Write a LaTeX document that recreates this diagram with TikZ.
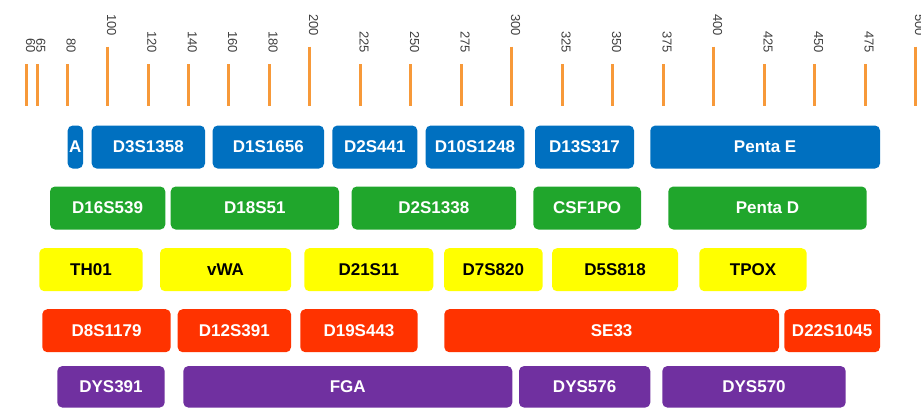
\documentclass[tikz,border=0pt]{standalone}
\usepackage{fontspec}
\setmainfont{Liberation Sans}
\definecolor{tickorange}{RGB}{247,153,57}
\definecolor{kitblue}{RGB}{0,112,192}
\definecolor{kitgreen}{RGB}{32,166,44}
\definecolor{kityellow}{RGB}{255,255,0}
\definecolor{kitred}{RGB}{255,51,0}
\definecolor{kitpurple}{RGB}{112,48,160}
\tikzset{locus/.style={rectangle,rounded corners=5pt,inner sep=0,minimum height=43pt,
        font=\fontsize{17}{20}\selectfont\bfseries,text=white},
    sizetick/.style={draw=tickorange,line width=3pt},
    sizelabel/.style={rotate=-90,anchor=east,inner sep=0,
        font=\fontsize{13}{15}\selectfont,text=black!75}}

\begin{document}
\begin{tikzpicture}[x=1pt,y=-1pt]

\useasboundingbox (0,0) rectangle (921,408);

% size scale

\foreach \v in {60,65,80,120,140,160,180,225,250,275,325,350,375,425,450,475}
    \draw [sizetick] ({2.02*\v-94.3},64.3) -- ({2.02*\v-94.3},106);

\foreach \v in {100,200,...,500}
    \draw [sizetick] ({2.02*\v-94.3},46.7) -- ({2.02*\v-94.3},106);

\foreach \v in {60,65,80,120,140,160,180,225,250,275,325,350,375,425,450,475}
    \node (lab\v) [sizelabel] at ({2.02*\v-90.5},53) {\v};

\foreach \v in {100,200,...,500}
    \node (lab\v) [sizelabel] at ({2.02*\v-90.5},36) {\v};

% blue dye

\foreach \a/\b/\nm/\txt in {
  67.7/83/A/A,
  91.7/205/D3S1358/D3S1358,
  212.7/324/D1S1656/D1S1656,
  332.3/417.3/D2S441/D2S441,
  425.7/524.3/D10S1248/D10S1248,
  535/634/D13S317/D13S317,
  650.3/880/PentaE/Penta E}
    \node (\nm) [locus,fill=kitblue,minimum width={(\b-\a)*1pt}] at ({(\a+\b)/2},147) {\txt};

% green dye

\foreach \a/\b/\nm/\txt in {
  50/165.3/D16S539/D16S539,
  170.7/339/D18S51/D18S51,
  351.7/516/D2S1338/D2S1338,
  533.3/641/CSF1PO/CSF1PO,
  668.3/866.7/PentaD/Penta D}
    \node (\nm) [locus,fill=kitgreen,minimum width={(\b-\a)*1pt}] at ({(\a+\b)/2},208) {\txt};

% yellow dye

\foreach \a/\b/\nm/\txt in {
  39.3/142.7/TH01/TH01,
  160/291/vWA/vWA,
  304.3/433.3/D21S11/D21S11,
  444/542.7/D7S820/D7S820,
  552/678/D5S818/D5S818,
  699.3/806.7/TPOX/TPOX}
    \node (\nm) [locus,fill=kityellow,text=black,minimum width={(\b-\a)*1pt}] at ({(\a+\b)/2},269.7) {\txt};

% red dye

\foreach \a/\b/\nm/\txt in {
  42.3/170.7/D8S1179/D8S1179,
  177.7/291/D12S391/D12S391,
  300.3/417.7/D19S443/D19S443,
  444.3/779/SE33/SE33,
  784.3/880/D22S1045/D22S1045}
    \node (\nm) [locus,fill=kitred,minimum width={(\b-\a)*1pt}] at ({(\a+\b)/2},330.7) {\txt};

% purple dye

\foreach \a/\b/\nm/\txt in {
  57.3/164.7/DYS391/DYS391,
  183.3/512.3/FGA/FGA,
  519/650.3/DYS576/DYS576,
  662.3/845.7/DYS570/DYS570}
    \node (\nm) [locus,fill=kitpurple,minimum height=41.5pt,minimum width={(\b-\a)*1pt}] at ({(\a+\b)/2},386.8) {\txt};

\end{tikzpicture}
\end{document}
